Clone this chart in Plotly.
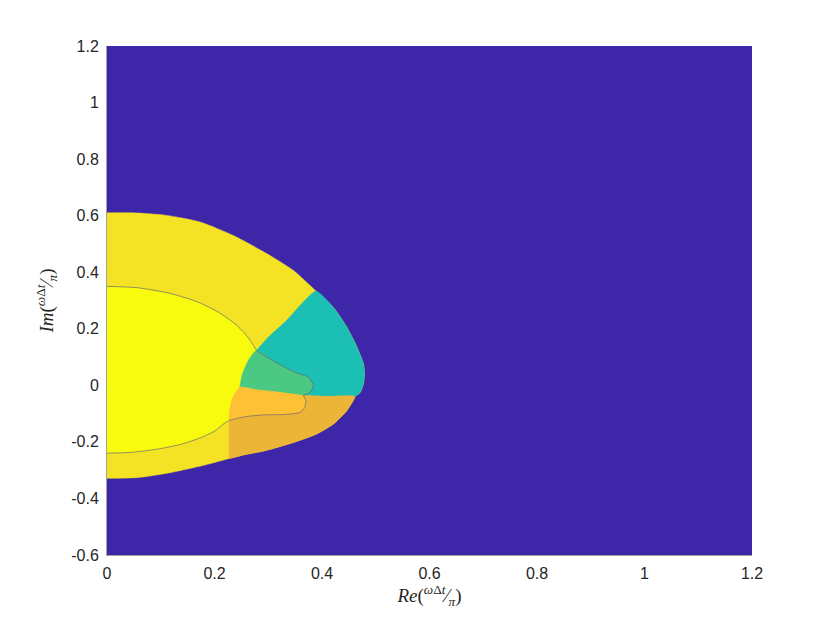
import plotly.graph_objects as go

# boundary curves of the filled contour regions (x = Re, y = Im)
outer_top_x = [0.0, 0.049, 0.111, 0.173, 0.235, 0.297, 0.347, 0.389]
outer_top_y = [0.610, 0.610, 0.601, 0.578, 0.530, 0.466, 0.406, 0.333]

outer_teal_x = [0.389, 0.421, 0.446, 0.465, 0.477, 0.479, 0.477, 0.471, 0.461]
outer_teal_y = [0.333, 0.276, 0.206, 0.135, 0.076, 0.040, 0.005, -0.025, -0.040]

outer_orange_x = [0.461, 0.446, 0.421, 0.390, 0.347, 0.294, 0.254, 0.227]
outer_orange_y = [-0.040, -0.090, -0.137, -0.172, -0.202, -0.231, -0.246, -0.259]

outer_bottom_x = [0.227, 0.182, 0.120, 0.058, 0.0]
outer_bottom_y = [-0.259, -0.282, -0.308, -0.326, -0.329]

div_upper_x = [0.389, 0.359, 0.334, 0.300, 0.278]
div_upper_y = [0.333, 0.282, 0.229, 0.170, 0.123]

div_green_x = [0.278, 0.263, 0.252, 0.247]
div_green_y = [0.123, 0.088, 0.040, -0.007]

div_lorange_x = [0.247, 0.233, 0.228, 0.227]
div_lorange_y = [-0.007, -0.048, -0.090, -0.124]

div_lower_x = [0.227, 0.227, 0.227]
div_lower_y = [-0.124, -0.190, -0.259]

mid_inner_x = [0.247, 0.279, 0.318, 0.365]
mid_inner_y = [-0.007, -0.016, -0.024, -0.036]

mid_outer_x = [0.365, 0.410, 0.461]
mid_outer_y = [-0.036, -0.039, -0.040]

loop_top_x = [0.0, 0.058, 0.120, 0.170, 0.207, 0.238, 0.257, 0.269, 0.278]
loop_top_y = [0.350, 0.345, 0.324, 0.294, 0.259, 0.218, 0.182, 0.152, 0.123]

loop_green_x = [0.278, 0.313, 0.350, 0.375, 0.384, 0.378, 0.365]
loop_green_y = [0.123, 0.082, 0.046, 0.028, -0.001, -0.025, -0.036]

loop_orange_x = [0.365, 0.370, 0.368, 0.359, 0.331, 0.288, 0.257, 0.227]
loop_orange_y = [-0.036, -0.054, -0.078, -0.096, -0.103, -0.105, -0.111, -0.124]

loop_bottom_x = [0.227, 0.2165, 0.201, 0.176, 0.139, 0.0955, 0.046, 0.0]
loop_bottom_y = [-0.124, -0.137, -0.161, -0.184, -0.208, -0.225, -0.237, -0.240]

x_ticks = [0, 0.2, 0.4, 0.6, 0.8, 1, 1.2]
y_ticks = [-0.6, -0.4, -0.2, 0, 0.2, 0.4, 0.6, 0.8, 1, 1.2]

# parula levels
c_back = '#3E26A8'
c_yellow_out = '#F4E325'
c_yellow_in = '#F9FB0E'
c_teal = '#1BBFB3'
c_green = '#4BC983'
c_orange_out = '#EDB537'
c_orange_in = '#FEC135'


def rev(a):
    return a[::-1]


def patch(fig, xs, ys, color):
    fig.add_trace(go.Scatter(x=xs, y=ys, mode='lines', fill='toself',
                             fillcolor=color,
                             line=dict(color=color, width=0.5, shape='spline', smoothing=0.6),
                             hoverinfo='skip', showlegend=False))


fig = go.Figure()

# whole outer region
patch(fig,
      outer_top_x + outer_teal_x + outer_orange_x + outer_bottom_x,
      outer_top_y + outer_teal_y + outer_orange_y + outer_bottom_y,
      c_yellow_out)

# teal sector
patch(fig,
      outer_teal_x + rev(mid_outer_x) + rev(mid_inner_x) + rev(div_green_x) + rev(div_upper_x),
      outer_teal_y + rev(mid_outer_y) + rev(mid_inner_y) + rev(div_green_y) + rev(div_upper_y),
      c_teal)

# dark orange sector
patch(fig,
      outer_orange_x + rev(div_lower_x) + rev(div_lorange_x) + mid_inner_x + mid_outer_x,
      outer_orange_y + rev(div_lower_y) + rev(div_lorange_y) + mid_inner_y + mid_outer_y,
      c_orange_out)

# inside the loop: bright yellow part
patch(fig,
      loop_top_x + div_green_x + div_lorange_x + loop_bottom_x,
      loop_top_y + div_green_y + div_lorange_y + loop_bottom_y,
      c_yellow_in)

# green part
patch(fig,
      loop_green_x + rev(mid_inner_x) + rev(div_green_x),
      loop_green_y + rev(mid_inner_y) + rev(div_green_y),
      c_green)

# light orange part
patch(fig,
      mid_inner_x + loop_orange_x + rev(div_lorange_x),
      mid_inner_y + loop_orange_y + rev(div_lorange_y),
      c_orange_in)

# contour line of the loop
fig.add_trace(go.Scatter(x=loop_top_x + loop_green_x + loop_orange_x + loop_bottom_x,
                         y=loop_top_y + loop_green_y + loop_orange_y + loop_bottom_y,
                         mode='lines',
                         line=dict(color='rgba(95,95,120,0.85)', width=0.8,
                                   shape='spline', smoothing=0.6),
                         hoverinfo='skip', showlegend=False))

axis_font = dict(family='Liberation Sans, Arial, sans-serif', size=16, color='#262626')
title_font = dict(family='Liberation Serif, DejaVu Serif, serif', size=19, color='#262626')

# the page body adds 8px, so margins are shifted to keep the plot box in place
fig.update_layout(
    width=830, height=624,
    margin=dict(l=99, r=86, t=38, b=77),
    paper_bgcolor='white',
    plot_bgcolor=c_back,
    xaxis=dict(range=[0, 1.2], tickvals=x_ticks, ticktext=[str(v) for v in x_ticks],
               showgrid=False, zeroline=False, showline=True, linecolor='#A0A0A0',
               linewidth=1, ticks='', tickfont=axis_font, ticklabelstandoff=4,
               title=dict(text='<i>Re</i>(<sup><i>ω</i>Δ<i>t</i></sup>⁄<sub><i>π</i></sub>)',
                          font=title_font, standoff=4)),
    yaxis=dict(range=[-0.6, 1.2], tickvals=y_ticks, ticktext=[str(v) for v in y_ticks],
               showgrid=False, zeroline=False, showline=True, linecolor='#A0A0A0',
               linewidth=1, ticks='', tickfont=axis_font, ticklabelstandoff=4,
               title=dict(text='<i>Im</i>(<sup><i>ω</i>Δ<i>t</i></sup>⁄<sub><i>π</i></sub>)',
                          font=title_font, standoff=12)),
)

fig.write_html("out.html")
